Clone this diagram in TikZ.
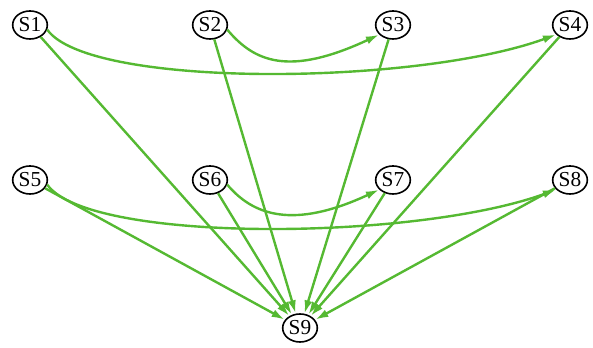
\documentclass[tikz,border=0pt]{standalone}
\usepackage{fontspec}
\setmainfont{Liberation Serif}
\usetikzlibrary{shapes.geometric,arrows.meta}

\definecolor{edgegreen}{RGB}{85,185,50}

\tikzset{
  state/.style={draw=black, ellipse, line width=1.2pt, fill=white,
    minimum width=26pt, minimum height=21pt, inner sep=0pt,
    font=\fontsize{16}{18}\selectfont},
  link/.style={draw=edgegreen, line width=1.8pt,
    -{Latex[length=10pt,width=6pt]}},
}

\begin{document}
\begin{tikzpicture}[x=0.75pt,y=0.75pt]
  \useasboundingbox (0,0) rectangle (593,348);

  % the two rows of states
  \foreach \n/\x/\y in {1/30/323,2/210/323,3/393/323,4/570/323,
                        5/30/168,6/210/168,7/393/168,8/570/168}{
    \node[state] (s\n) at (\x,\y) {S\n};
  }
  \node[state] (s9) at (300,20) {S9};

  % every state feeds S9
  \foreach \n in {1,...,8}{
    \draw[link] (s\n) -- (s9);
  }

  % arcs along each row
  \draw[link] (s1.-15) .. controls +(-55:72) and +(200:150) .. (s4.215);
  \draw[link] (s2.-15) .. controls +(-50:42) and +(205:100) .. (s3.215);
  \draw[link] (s5.-15) .. controls +(-55:72) and +(200:150) .. (s8.215);
  \draw[link] (s6.-15) .. controls +(-50:40) and +(205:95) .. (s7.215);
\end{tikzpicture}
\end{document}
